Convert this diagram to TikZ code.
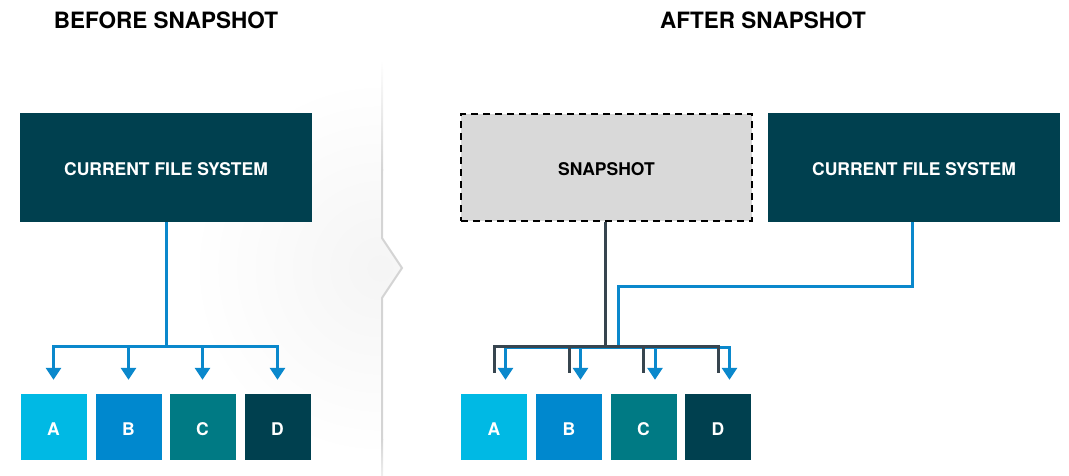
\documentclass[tikz,border=0pt]{standalone}
\usepackage{fontspec}
\setmainfont{TeX Gyre Heros}
\usetikzlibrary{arrows.meta,calc}

\definecolor{navy}{HTML}{00404F}
\definecolor{cyanA}{HTML}{00B9E4}
\definecolor{blueB}{HTML}{0088CE}
\definecolor{tealC}{HTML}{007A84}
\definecolor{linkblue}{HTML}{0A88CC}
\definecolor{slate}{HTML}{37454F}
\definecolor{snapgray}{HTML}{D9D9D9}
\definecolor{divgray}{HTML}{D4D4D4}

\tikzset{
  heading/.style={font=\bfseries\fontsize{22.5}{26}\selectfont, text=black, inner sep=0},
  boxtext/.style={font=\bfseries\fontsize{17.5}{20}\selectfont, text depth=0pt, text height=16pt},
  fsbox/.style={boxtext, fill=navy, text=white,
    minimum width=292pt, minimum height=109pt, inner sep=0},
  snapbox/.style={boxtext, fill=snapgray, draw=black, line width=2pt, dash pattern=on 7pt off 5pt,
    text=black, minimum width=291pt, minimum height=107pt, inner sep=0},
  blockbox/.style={boxtext, text=white,
    minimum width=66pt, minimum height=66pt, inner sep=0},
  bluelink/.style={draw=linkblue, line width=3pt, line join=miter},
  darklink/.style={draw=slate, line width=3pt, line join=miter},
  bus/.style={line cap=rect},
  drop/.style={-{Triangle[width=15pt,length=12pt]}, shorten >=14pt},
}

\begin{document}
\begin{tikzpicture}[x=1pt,y=-1pt]
\useasboundingbox (0,0) rectangle (1069,475);

% soft shadow in front of the divider
\begin{scope}
  \clip (0,60) -- (382,60) -- (382,238) -- (402,268) -- (382,298) -- (382,475) -- (0,475) -- cycle;
  \shade[inner color=black!4, outer color=white] (380,268) circle (190);
\end{scope}

% divider with chevron
\shade[top color=white, bottom color=divgray] (381,60) rectangle (383,170);
\draw[divgray, line width=2pt, line join=miter] (382,169) -- (382,238) -- (402,268) -- (382,298) -- (382,440);
\shade[top color=divgray, bottom color=divgray!40] (381,439) rectangle (383,475);

% headings
\node[heading] (before) at (166,20) {BEFORE SNAPSHOT};
\node[heading] (after) at (763,20) {AFTER SNAPSHOT};

% ---- before ----
\node[fsbox] (fsL) at (166,167.5) {CURRENT FILE SYSTEM};
\node[blockbox, fill=cyanA] (aL) at (53.5,427) {A};
\node[blockbox, fill=blueB] (bL) at (128.5,427) {B};
\node[blockbox, fill=tealC] (cL) at (202.5,427) {C};
\node[blockbox, fill=navy]  (dL) at (277.5,427) {D};
\coordinate (busL) at (166,346.5);

\draw[bluelink] (fsL.south) -- (busL);
\draw[bluelink, bus] (aL.north |- busL) -- (dL.north |- busL);
\foreach \b in {aL,bL,cL,dL}
  \draw[bluelink, drop] (\b.north |- busL) -- (\b.north);

% ---- after ----
\node[snapbox] (snap) at (606.5,167.5) {SNAPSHOT};
\node[fsbox] (fsR) at (914,167.5) {CURRENT FILE SYSTEM};
\node[blockbox, fill=cyanA] (aR) at (494,427) {A};
\node[blockbox, fill=blueB] (bR) at (569,427) {B};
\node[blockbox, fill=tealC] (cR) at (643.5,427) {C};
\node[blockbox, fill=navy]  (dR) at (718,427) {D};
\coordinate (busR) at (605,346.5);
\coordinate (bend) at (618,286);
\coordinate (joinR) at (618,347);

% current file system keeps pointing at the blocks
\draw[bluelink] ([xshift=-2pt]fsR.south) |- (bend) -- (joinR);
\draw[bluelink, bus] ([xshift=11.5pt]aR.north |- joinR) -- ([xshift=11.5pt]dR.north |- joinR);
\foreach \b in {aR,bR,cR,dR}
  \draw[bluelink, drop] ([xshift=11.5pt]\b.north |- joinR) -- ([xshift=11.5pt]\b.north);

% snapshot references the same blocks
\draw[darklink] ([xshift=-1.5pt]snap.south) -- (busR);
\draw[darklink, bus] (aR.north |- busR) -- (dR.north |- busR);
\foreach \b in {aR,bR,cR,dR}
  \draw[darklink] (\b.north |- busR) -- ([yshift=21pt]\b.north);
\end{tikzpicture}
\end{document}
